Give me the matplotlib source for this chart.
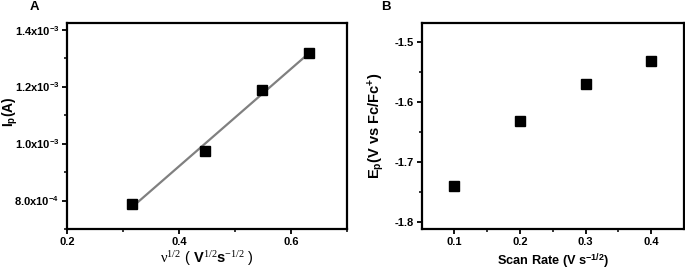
import numpy as np
import matplotlib
matplotlib.use("Agg")
import matplotlib.pyplot as plt
from matplotlib.ticker import FixedLocator

plt.rcParams['font.family'] = ['Liberation Sans', 'DejaVu Sans']
plt.rcParams['mathtext.fontset'] = 'custom'
plt.rcParams['mathtext.rm'] = 'Liberation Serif'
plt.rcParams['mathtext.it'] = 'Liberation Serif:italic'
plt.rcParams['mathtext.bf'] = 'Liberation Sans:bold'

# panel A data
sqrt_rate = [0.316, 0.447, 0.548, 0.633]
peak_current = [7.88e-4, 9.75e-4, 1.188e-3, 1.321e-3]
a_yticks = [8.0e-4, 1.0e-3, 1.2e-3, 1.4e-3]
a_ylabels = [r"8.0x10$^{\mathbf{-4}}$", r"1.0x10$^{\mathbf{-3}}$",
             r"1.2x10$^{\mathbf{-3}}$", r"1.4x10$^{\mathbf{-3}}$"]

# panel B data
scan_rate = [0.1, 0.2, 0.3, 0.4]
peak_pot = [-1.739, -1.632, -1.571, -1.532]

fig = plt.figure(figsize=(6.85, 2.7), dpi=100)
axA = fig.add_axes([0.0978, 0.152, 0.4088, 0.763])
axB = fig.add_axes([0.6156, 0.152, 0.383, 0.763])

def style(ax):
    for s in ax.spines.values():
        s.set_linewidth(1.6)
    ax.tick_params(which='major', direction='out', length=3.5, width=1.3,
                   labelsize=8, pad=2)
    ax.tick_params(which='minor', direction='out', length=2.2, width=1.1)
    for lab in ax.get_xticklabels() + ax.get_yticklabels():
        lab.set_fontweight('bold')

# A
coef = np.polyfit(sqrt_rate, peak_current, 1)
xfit = np.array([sqrt_rate[0], sqrt_rate[-1]])
axA.plot(xfit, np.polyval(coef, xfit), color='#808080', lw=1.6, zorder=2)
axA.plot(sqrt_rate, peak_current, 's', color='black', ms=6.5, zorder=3)
axA.set_xlim(0.2, 0.7)
axA.set_ylim(7.0e-4, 1.425e-3)
axA.xaxis.set_major_locator(FixedLocator([0.2, 0.4, 0.6]))
axA.xaxis.set_minor_locator(FixedLocator([0.3, 0.5, 0.7]))
axA.set_yticks(a_yticks)
axA.set_yticklabels(a_ylabels)
axA.yaxis.set_minor_locator(FixedLocator([7e-4, 9e-4, 1.1e-3, 1.3e-3]))
axA.set_xticklabels(['0.2', '0.4', '0.6'])
style(axA)
axA.set_ylabel(r"I$_\mathbf{p}$(A)", fontsize=10, fontweight='bold')
axA.yaxis.set_label_coords(-0.168, 0.57)
axA.set_xlabel(r"$\mathrm{ν}^{\mathrm{1/2}}$ ( $\mathbf{V}^{\mathrm{1/2}}\mathbf{s}^{\mathrm{-1/2}}$ )",
               fontsize=10.5, labelpad=2)
fig.text(0.043, 0.997, "A", fontsize=9.5, fontweight='bold', va='top')

# B
axB.plot(scan_rate, peak_pot, 's', color='black', ms=6.5)
axB.set_xlim(0.05, 0.45)
axB.set_ylim(-1.811, -1.469)
axB.xaxis.set_minor_locator(FixedLocator([0.15, 0.25, 0.35]))
axB.yaxis.set_minor_locator(FixedLocator([-1.75, -1.65, -1.55]))
axB.set_xticks(scan_rate)
axB.set_xticklabels(['0.1', '0.2', '0.3', '0.4'])
axB.set_yticks([-1.8, -1.7, -1.6, -1.5])
axB.set_yticklabels(['-1.8', '-1.7', '-1.6', '-1.5'])
style(axB)
axB.set_ylabel(r"E$_\mathbf{p}$(V vs Fc/Fc$^\mathbf{+}$)", fontsize=10.5,
               fontweight='bold')
axB.yaxis.set_label_coords(-0.132, 0.5)
axB.set_xlabel(r"Scan Rate (V s$^{\mathbf{-1/2}}$)", fontsize=9.2,
               fontweight='bold', labelpad=3)
fig.text(0.557, 0.997, "B", fontsize=9.5, fontweight='bold', va='top')

fig.savefig("out.png", dpi=100)
